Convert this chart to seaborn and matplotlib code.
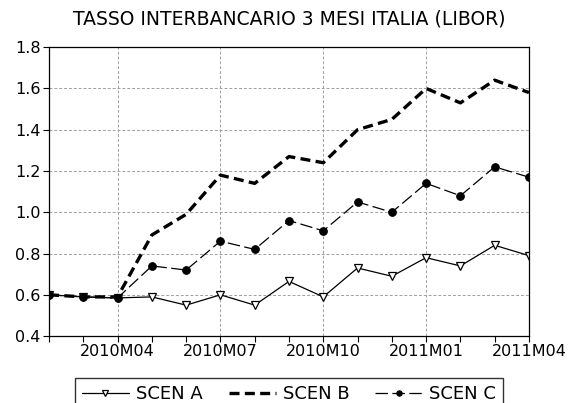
import numpy as np
import pandas as pd
import seaborn as sns
import matplotlib.pyplot as plt

# dati mensili 2010M02 - 2011M04
mesi = ["2010M02", "2010M03", "2010M04", "2010M05", "2010M06", "2010M07", "2010M08",
        "2010M09", "2010M10", "2010M11", "2010M12", "2011M01", "2011M02", "2011M03", "2011M04"]
scen_a = [0.60, 0.59, 0.585, 0.59, 0.55, 0.60, 0.55, 0.665, 0.59, 0.73, 0.69, 0.78, 0.74, 0.84, 0.79]
scen_b = [0.60, 0.59, 0.59, 0.89, 0.99, 1.18, 1.14, 1.27, 1.24, 1.40, 1.45, 1.60, 1.53, 1.64, 1.58]
scen_c = [0.60, 0.59, 0.585, 0.74, 0.72, 0.86, 0.82, 0.96, 0.91, 1.05, 1.00, 1.14, 1.08, 1.22, 1.17]
etichette = ["2010M04", "2010M07", "2010M10", "2011M01", "2011M04"]

df = pd.DataFrame({"t": np.arange(len(mesi)), "A": scen_a, "B": scen_b, "C": scen_c})

sns.set_style("white")
plt.rcParams['font.family'] = ['DejaVu Sans']
plt.rcParams['text.color'] = 'black'

fig, ax = plt.subplots(figsize=(5.7, 4.03), dpi=100)
fig.subplots_adjust(left=0.086, right=0.928, top=0.883, bottom=0.166)

sns.lineplot(data=df, x="t", y="A", ax=ax, color="black", lw=0.9, marker="v",
             markersize=6, markerfacecolor="white", markeredgecolor="black",
             markeredgewidth=0.9, label="SCEN A")
sns.lineplot(data=df, x="t", y="B", ax=ax, color="black", lw=2.4, dashes=(3, 1.6),
             label="SCEN B")
sns.lineplot(data=df, x="t", y="C", ax=ax, color="black", lw=0.9, dashes=(10, 3.5),
             marker="o", markersize=5.5, markerfacecolor="black",
             markeredgecolor="black", label="SCEN C")

ax.set_xlim(0, len(mesi) - 1)
ax.set_ylim(0.4, 1.8)
ax.set_yticks(np.arange(0.4, 1.81, 0.2))
ax.set_yticklabels([f"{v:.1f}" for v in np.arange(0.4, 1.81, 0.2)])
ax.set_xticks([mesi.index(m) for m in etichette])
ax.set_xticklabels(etichette)
ax.set_xticks(np.arange(len(mesi)), minor=True)
ax.tick_params(axis="both", which="both", direction="out", length=4, width=0.8,
               colors="black", labelsize=11.5, bottom=True, left=True)
ax.tick_params(axis="x", which="major", pad=2)
ax.tick_params(axis="y", which="major", pad=2)
ax.set_xlabel("")
ax.set_ylabel("")

ax.grid(True, which="major", linestyle=(0, (3, 2)), color="#a0a0a0", lw=0.7)
for s in ax.spines.values():
    s.set_color("black")
    s.set_linewidth(0.9)

ax.set_title("TASSO INTERBANCARIO 3 MESI ITALIA (LIBOR)", fontsize=13.5, pad=16,
             color="black")

leg = ax.legend(loc="upper center", bbox_to_anchor=(0.5, -0.145), ncol=3,
                frameon=True, fancybox=False, edgecolor="black", fontsize=13,
                handlelength=2.6, handletextpad=0.39, columnspacing=1.45,
                borderpad=0.39, borderaxespad=0, markerscale=0.7)
leg.get_frame().set_linewidth(1.0)

plt.savefig("out.png", dpi=100)
